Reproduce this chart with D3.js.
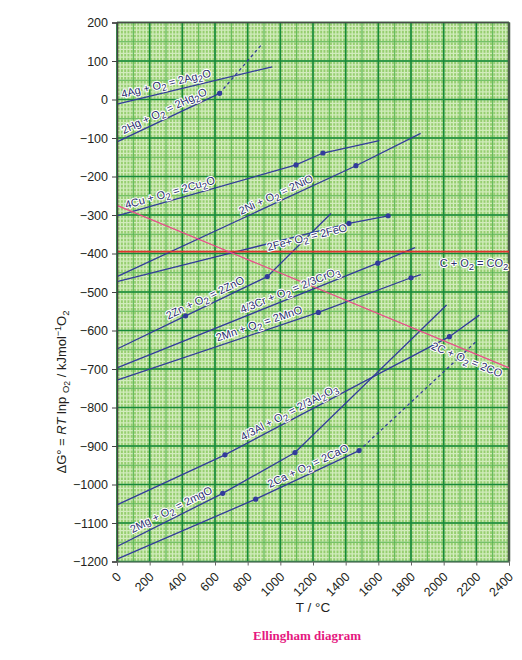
<!DOCTYPE html>
<html>
<head>
<meta charset="utf-8">
<script src="https://cdn.jsdelivr.net/npm/d3@7"></script>
<style>
  html, body { margin: 0; padding: 0; background: #fff; }
  svg { display: block; font-family: "Liberation Sans", Arial, sans-serif; }
</style>
</head>
<body>
<svg id="chart" width="522" height="660"></svg>
<script>
// axis ticks
const tTicks = d3.range(0, 2401, 200);     // T / °C
const gTicks = d3.range(-1200, 201, 100);  // ΔG° / kJ mol-1 O2

// break points [T, ΔG] of each line
const ag = [[0, -12], [950, 85]];
const hg = [[0, -110], [628, 16]];
const hgGas = [[628, 16], [880, 140]];
const cu = [[0, -302], [1096, -170], [1261, -139], [1606, -107]];
const ni = [[0, -460], [1463, -172], [1859, -88]];
const fe = [[0, -473], [1420, -322], [1660, -302]];
const zn = [[0, -648], [420, -562], [920, -460], [1310, -296]];
const cr = [[0, -697], [1596, -425], [1825, -385]];
const mn = [[0, -729], [1233, -553], [1800, -463], [1860, -455]];
const co2 = [[0, -395], [2400, -395]];
const co = [[0, -275], [2400, -697]];
const al = [[0, -1053], [661, -923], [2035, -616], [2218, -560]];
const mg = [[0, -1161], [647, -1023], [1090, -917], [2018, -534]];
const ca = [[0, -1194], [849, -1038], [1482, -912]];
const caGas = [[1482, -912], [2198, -629]];

// phase change markers
const dots = [[628, 16], [1096, -170], [1261, -139], [1463, -172], [1420, -322], [1660, -302],
  [420, -562], [920, -460], [1596, -425], [1233, -553], [1800, -463],
  [661, -923], [2035, -616], [647, -1023], [1090, -917], [849, -1038], [1482, -912]];

// reaction labels ("_x" = subscript)
const labelNames = ['4Ag + O_2 = 2Ag_2O', '2Hg + O_2 = 2Hg_2O', '4Cu + O_2 = 2Cu_2O', '2Ni + O_2 = 2NiO',
  '2Fe+ O_2 = 2FeO', '2Zn + O_2 = 2ZnO', '4/3Cr + O_2 = 2/3CrO_3', '2Mn + O_2 = 2MnO',
  'C + O_2 = CO_2', '2C + O_2 = 2CO', '4/3Al + O_2 = 2/3Al_2O_3', '2Mg + O_2 = 2mgO', '2Ca + O_2 = 2CaO'];
const labelLines = [ag, hg, cu, ni, fe, zn, cr, mn, co2, co, al, mg, ca];

const svg = d3.select('#chart');
const pL = 117, pR = 509, pT = 22.5, pB = 561.5;

const x = d3.scaleLinear().domain([0, 2400]).range([pL, pR]);
const y = d3.scaleLinear().domain([-1200, 200]).range([pB, pT]);

// graph paper
svg.append('rect')
  .attr('x', pL).attr('y', pT)
  .attr('width', pR - pL).attr('height', pB - pT)
  .attr('fill', '#96ce6f');

function grid(tStep, gStep, color, width) {
  const g = svg.append('g').attr('stroke', color).attr('stroke-width', width);
  g.selectAll('.v').data(d3.range(0, 2401, tStep)).enter().append('line')
    .attr('x1', d => x(d)).attr('x2', d => x(d))
    .attr('y1', pT).attr('y2', pB);
  g.selectAll('.h').data(d3.range(-1200, 201, gStep)).enter().append('line')
    .attr('x1', pL).attr('x2', pR)
    .attr('y1', d => y(d)).attr('y2', d => y(d));
}
grid(20, 10, '#d2ecbd', 1.3);
grid(100, 50, '#55b24e', 1);
grid(200, 100, '#16893a', 1.6);

// border
svg.append('line').attr('x1', pL).attr('x2', pR).attr('y1', pT).attr('y2', pT)
  .attr('stroke', '#4a4a4a').attr('stroke-width', 1.5);
svg.append('line').attr('x1', pR).attr('x2', pR).attr('y1', pT).attr('y2', pB)
  .attr('stroke', '#4a5a4a').attr('stroke-width', 2.5);

const line = d3.line().x(d => x(d[0])).y(d => y(d[1]));

// reaction lines
const blue = '#323b9b';
[ag, hg, cu, ni, fe, zn, cr, mn, al, mg, ca].forEach(pts => {
  svg.append('path').attr('d', line(pts))
    .attr('fill', 'none').attr('stroke', blue).attr('stroke-width', 1.3);
});
[hgGas, caGas].forEach(pts => {
  svg.append('path').attr('d', line(pts))
    .attr('fill', 'none').attr('stroke', blue).attr('stroke-width', 1.3)
    .attr('stroke-dasharray', '3,3');
});
svg.append('path').attr('d', line(co2))
  .attr('fill', 'none').attr('stroke', '#e2322f').attr('stroke-width', 1.6);
svg.append('path').attr('d', line(co))
  .attr('fill', 'none').attr('stroke', '#ea4d8c').attr('stroke-width', 1.2);

svg.selectAll('.dot').data(dots).enter().append('circle')
  .attr('cx', d => x(d[0])).attr('cy', d => y(d[1]))
  .attr('r', 2.6).attr('fill', blue);

// labels along lines
const labelAt = [300, 288, 324, 973, 1163, 539, 1059, 869, 2186, 2143, 1053, 331, 1169];
const labelDy = [-9, -9, -8.5, -8.5, 3, -9, -8.5, -9, 11, 9, -9, -10, -9];

function rich(sel, str) {
  let shift = 0;
  str.split(/(_\w)/).forEach(p => {
    if (!p) return;
    if (p[0] === '_') {
      sel.append('tspan').attr('dy', 3 - shift).attr('font-size', 9.5).text(p.slice(1));
      shift = 3;
    } else {
      sel.append('tspan').attr('dy', -shift).text(p);
      shift = 0;
    }
  });
}

function pointOn(pts, t) {
  let i = 0;
  while (i < pts.length - 2 && pts[i + 1][0] < t) i++;
  const a = pts[i], b = pts[i + 1];
  const g = a[1] + (b[1] - a[1]) * (t - a[0]) / (b[0] - a[0]);
  const ang = Math.atan2(y(b[1]) - y(a[1]), x(b[0]) - x(a[0])) * 180 / Math.PI;
  return [x(t), y(g), ang];
}

labelNames.forEach((name, i) => {
  const [px, py, ang] = pointOn(labelLines[i], labelAt[i]);
  const t = svg.append('text')
    .attr('transform', `translate(${px},${py + labelDy[i]}) rotate(${ang})`)
    .attr('y', 4)
    .attr('text-anchor', 'middle')
    .attr('font-size', 11)
    .attr('fill', '#2b2f6e')
    .attr('stroke', '#fff').attr('stroke-width', 2.2)
    .attr('stroke-linejoin', 'round')
    .style('paint-order', 'stroke');
  rich(t, name);
});

// axes
const yAxis = svg.append('g').attr('transform', `translate(${pL},0)`)
  .call(d3.axisLeft(y).tickValues(gTicks).tickSize(5).tickPadding(4)
    .tickFormat(d => d < 0 ? '\u2212' + Math.abs(d) : d));
yAxis.select('.domain').attr('stroke', '#444').attr('stroke-width', 1.5);
yAxis.selectAll('text').attr('font-size', 12.5).attr('fill', '#231f20')
  .attr('font-family', '"Liberation Sans", Arial, sans-serif');
yAxis.selectAll('.tick line').attr('stroke', '#444');

const xAxis = svg.append('g').attr('transform', `translate(0,${pB})`)
  .call(d3.axisBottom(x).tickValues(tTicks).tickSize(4).tickFormat(d => d));
xAxis.select('.domain').attr('stroke', '#666').attr('stroke-width', 1);
xAxis.selectAll('.tick line').attr('stroke', '#666');
xAxis.selectAll('text')
  .attr('font-size', 12.5).attr('fill', '#231f20')
  .attr('font-family', '"Liberation Sans", Arial, sans-serif')
  .attr('text-anchor', 'end')
  .attr('y', 0).attr('dy', 0)
  .attr('transform', 'translate(4.5,16) rotate(-45)');

// axis titles
svg.append('text')
  .attr('x', (pL + pR) / 2).attr('y', 612)
  .attr('text-anchor', 'middle').attr('font-size', 13.5).attr('fill', '#231f20')
  .text('T / °C');

const yt = svg.append('text')
  .attr('transform', 'translate(66,392) rotate(-90)')
  .attr('text-anchor', 'middle').attr('font-size', 13).attr('fill', '#231f20');
yt.append('tspan').text('\u0394G\u00b0 = ');
yt.append('tspan').attr('font-style', 'italic').text('RT');
yt.append('tspan').text(' lnp ');
yt.append('tspan').attr('font-size', 9.5).attr('dy', 3).text('O');
yt.append('tspan').attr('font-size', 8.5).attr('dy', 1).text('2');
yt.append('tspan').attr('dy', -4).text(' / kJmol');
yt.append('tspan').attr('font-size', 9).attr('dy', -5).text('\u22121');
yt.append('tspan').attr('dy', 5).text('O');
yt.append('tspan').attr('font-size', 9.5).attr('dy', 3).text('2');

// caption
svg.append('text')
  .attr('x', 307).attr('y', 640)
  .attr('text-anchor', 'middle')
  .attr('font-family', '"Liberation Serif", "DejaVu Serif", serif')
  .attr('font-weight', 'bold').attr('font-size', 13).attr('fill', '#e5177f')
  .text('Ellingham diagram');
</script>
</body>
</html>
